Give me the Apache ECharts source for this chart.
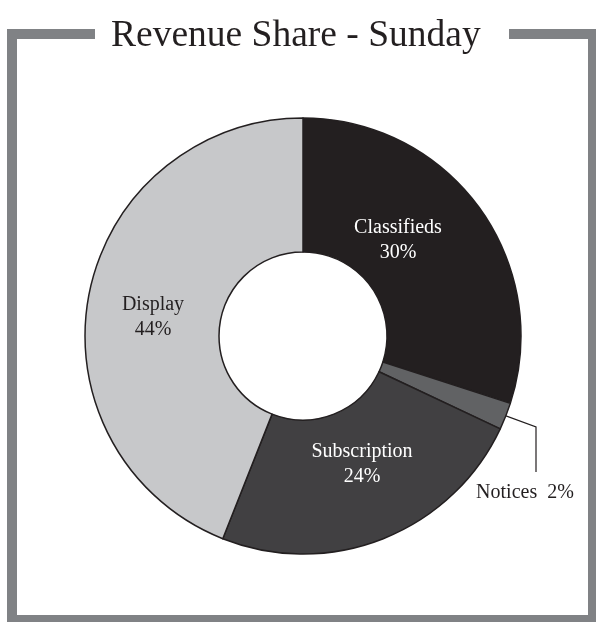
<!DOCTYPE html>
<html>
<head>
<meta charset="utf-8">
<script src="https://cdn.jsdelivr.net/npm/echarts@6/dist/echarts.min.js"></script>
<style>
html,body{margin:0;padding:0;background:#fff;}
#chart{width:596px;height:622px;}
</style>
</head>
<body>
<div id="chart"></div>
<script>
const titleText = 'Revenue Share - Sunday';
const categories = ['Classifieds', 'Notices', 'Subscription', 'Display'];
const shares = [30, 2, 24, 44];
const sliceColors = ['#231f20', '#616264', '#414042', '#c7c8ca'];
const labelColors = ['#ffffff', '#231f20', '#ffffff', '#231f20'];

const CX = 303, CY = 336, R0 = 84, R1 = 218;
const total = shares.reduce((a, b) => a + b, 0);

function midAngle(i) {
  let before = 0;
  for (let k = 0; k < i; k++) before += shares[k];
  const frac = (before + shares[i] / 2) / total;
  return -Math.PI / 2 + frac * 2 * Math.PI;
}

const chart = echarts.init(document.getElementById('chart'), null, {renderer: 'canvas'});
const FONT = '"Liberation Serif", "Times New Roman", serif';

chart.setOption({
  backgroundColor: '#ffffff',
  animation: false,
  title: {
    text: titleText,
    left: 106,
    top: 12,
    textStyle: {fontFamily: FONT, fontSize: 37.5, fontWeight: 'normal', color: '#231f20'}
  },
  graphic: [{
    type: 'polyline',
    z: -1,
    shape: {points: [[95, 34], [12, 34], [12, 620], [593, 620], [593, 34], [509, 34]]},
    style: {stroke: '#808285', lineWidth: 10, fill: null, lineJoin: 'miter', lineCap: 'butt'}
  }],
  series: [{
    type: 'pie',
    center: [CX, CY],
    radius: [R0, R1],
    startAngle: 90,
    clockwise: true,
    avoidLabelOverlap: false,
    itemStyle: {borderColor: '#231f20', borderWidth: 1.5},
    label: {
      fontFamily: FONT,
      fontSize: 20,
      lineHeight: 25,
      align: 'center'
    },
    labelLine: {lineStyle: {color: '#231f20', width: 1.2}, smooth: false},
    data: categories.map((name, i) => ({
      name: name,
      value: shares[i],
      itemStyle: {color: sliceColors[i]},
      label: {
        show: true,
        position: i === 1 ? 'outside' : 'inside',
        color: labelColors[i],
        formatter: i === 1 ? '{b}  {d}%' : '{b}\n{d}%'
      },
      labelLine: {show: i === 1}
    })),
    labelLayout: function (p) {
      const i = p.dataIndex;
      if (i === 0) return {x: 398, y: 240, align: 'center', verticalAlign: 'middle'};
      if (i === 2) return {x: 362, y: 464, align: 'center', verticalAlign: 'middle'};
      if (i === 3) return {x: 153, y: 317, align: 'center', verticalAlign: 'middle'};
      const a = midAngle(1);
      const r = 200;
      const sx = CX + r * Math.cos(a), sy = CY + r * Math.sin(a);
      return {
        x: 525, y: 493, align: 'center', verticalAlign: 'middle',
        labelLinePoints: [[sx, sy], [536, 427], [536, 472]]
      };
    }
  }]
});
</script>
</body>
</html>
